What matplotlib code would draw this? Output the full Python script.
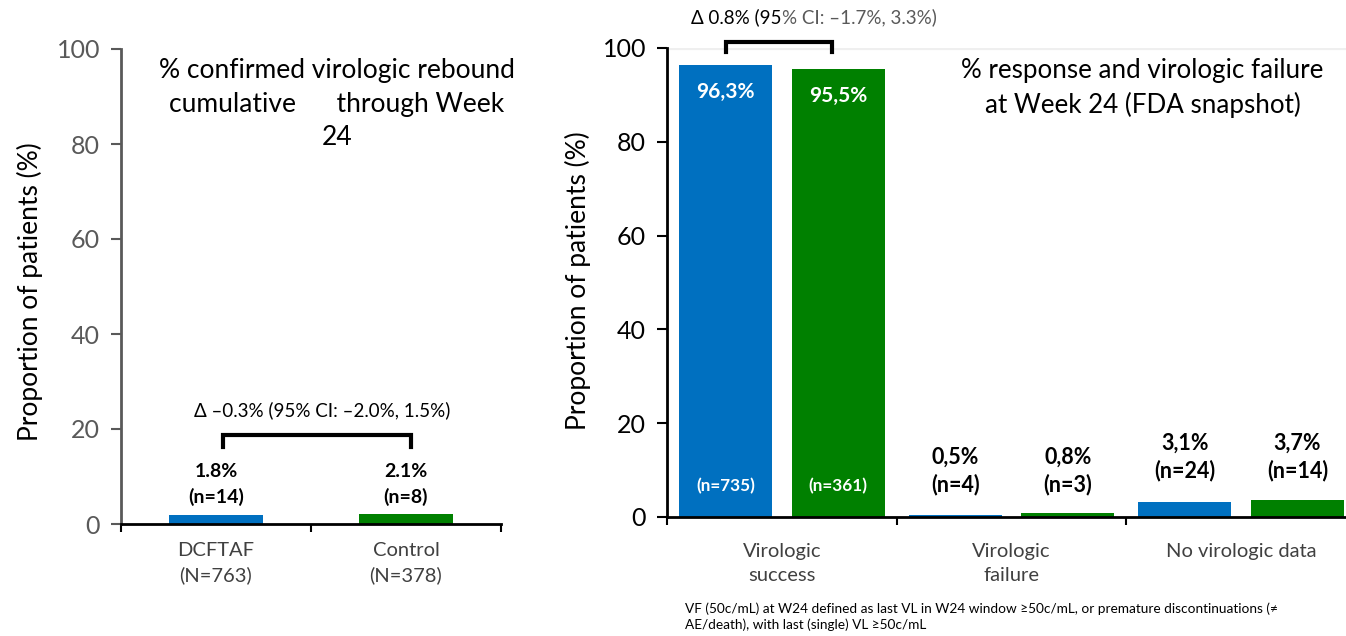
import matplotlib
matplotlib.use("Agg")
import matplotlib.pyplot as plt
import numpy as np

plt.rcParams['font.family'] = ['Lato', 'DejaVu Sans']

# ---------------- data ----------------
left_categories = ["DCFTAF\n(N=763)", "Control\n(N=378)"]
left_values = [1.8, 2.1]
left_labels = ["1.8%\n(n=14)", "2.1%\n(n=8)"]
left_delta = "Δ –0.3% (95% CI: –2.0%, 1.5%)"
left_title = "% confirmed virologic rebound\ncumulative      through Week\n24"

right_categories = ["Virologic\nsuccess", "Virologic\nfailure", "No virologic data"]
right_dcftaf = [96.3, 0.5, 3.1]
right_control = [95.5, 0.8, 3.7]
right_pct_dcftaf = ["96,3%", "0,5%", "3,1%"]
right_pct_control = ["95,5%", "0,8%", "3,7%"]
right_n_dcftaf = ["(n=735)", "(n=4)", "(n=24)"]
right_n_control = ["(n=361)", "(n=3)", "(n=14)"]
right_delta_a = "Δ 0.8% (95"
right_delta_b = "% CI: –1.7%, 3.3%)"
right_title = "% response and virologic failure\nat Week 24 (FDA snapshot)"
footnote = ("VF (50c/mL) at W24 defined as last VL in W24 window ≥50c/mL, or premature discontinuations (≠\n"
            "AE/death), with last (single) VL ≥50c/mL")
yticks = [0, 20, 40, 60, 80, 100]

BLUE = "#0070C0"
GREEN = "#008000"
GRAY = "#595959"

W, H = 1346, 636
fig = plt.figure(figsize=(W / 100, H / 100), dpi=100)

def px(x0, y_bottom, x1, y_top):
    return [x0 / W, 1 - y_bottom / H, (x1 - x0) / W, (y_bottom - y_top) / H]

# ---------------- left panel ----------------
axL = fig.add_axes(px(121, 524, 501, 49))
xl = np.arange(len(left_categories))
axL.bar(xl, left_values, width=0.49, color=[BLUE, GREEN])
axL.set_xlim(-0.5, 1.5)
axL.set_ylim(0, 100)
axL.set_yticks(yticks)
axL.tick_params(axis='y', colors=GRAY, labelsize=18, length=7, width=1.5, pad=8)
axL.set_xticks(xl)
axL.set_xticklabels(left_categories, fontsize=14.5, color="#404040", linespacing=1.45)
axL.tick_params(axis='x', length=0, pad=13)
axL.set_xticks([-0.5, 0.5, 1.5], minor=True)
axL.tick_params(axis='x', which='minor', length=6, width=1.5, color='black')
for s in ['top', 'right']:
    axL.spines[s].set_visible(False)
axL.spines['left'].set_color(GRAY)
axL.spines['left'].set_linewidth(2)
axL.spines['bottom'].set_linewidth(2)
axL.set_ylabel("Proportion of patients (%)", fontsize=19, va='center')
axL.yaxis.set_label_coords(-0.24, 0.49)

for x, lab in zip(xl, left_labels):
    axL.text(x, 8.3, lab, ha='center', va='center', fontsize=14, fontweight='bold',
             linespacing=1.5)
bx = [xl[0] + 0.035, xl[0] + 0.035, xl[1] + 0.025, xl[1] + 0.025]
axL.plot(bx, [16.2, 18.7, 18.7, 16.2], color='black', lw=3, clip_on=False,
         solid_joinstyle='miter')
axL.text(0.56, 24.0, left_delta, ha='center', va='center', fontsize=13.5, color='black')
axL.text(0.637, 88.4, left_title, ha='center', va='center', fontsize=19, linespacing=1.42)

# ---------------- right panel ----------------
axR = fig.add_axes(px(667, 517, 1356, 48))
xr = np.arange(len(right_categories))
off = 0.245
bw = 0.405
axR.axhline(100, color='#efefef', lw=3, zorder=0)
axR.bar(xr - off, right_dcftaf, width=bw, color=BLUE, zorder=2)
axR.bar(xr + off, right_control, width=bw, color=GREEN, zorder=2)
axR.set_xlim(-0.5, 2.5)
axR.set_ylim(0, 100)
axR.set_yticks(yticks)
axR.tick_params(axis='y', colors='black', labelsize=18, length=7, width=1.5, pad=8)
axR.set_xticks(xr)
axR.set_xticklabels(right_categories, fontsize=14.5, color="#404040", linespacing=1.45, va='top')
axR.tick_params(axis='x', length=0, pad=19)
axR.set_xticks([-0.5, 0.5, 1.5, 2.5], minor=True)
axR.tick_params(axis='x', which='minor', length=6, width=1.5, color='black')
for s in ['top', 'right']:
    axR.spines[s].set_visible(False)
axR.spines['left'].set_linewidth(2)
axR.spines['bottom'].set_linewidth(2)
axR.set_ylabel("Proportion of patients (%)", fontsize=19, va='center')
axR.yaxis.set_label_coords(-0.129, 0.503)

# inside labels on success bars
for x, v, p, n in [(xr[0] - off, right_dcftaf[0], right_pct_dcftaf[0], right_n_dcftaf[0]),
                   (xr[0] + off, right_control[0], right_pct_control[0], right_n_control[0])]:
    axR.text(x, v - 5.7, p, ha='center', va='center', fontsize=15, fontweight='bold', color='white', zorder=3)
    axR.text(x, 6.6, n, ha='center', va='center', fontsize=12.3, fontweight='bold', color='white', zorder=3)
# labels above small bars
for i in [1, 2]:
    top = max(right_dcftaf[i], right_control[i])
    for x, p, n in [(xr[i] - off, right_pct_dcftaf[i], right_n_dcftaf[i]),
                    (xr[i] + off, right_pct_control[i], right_n_control[i])]:
        axR.text(x, top + 12.0, p, ha='center', va='center', fontsize=15.5, fontweight='bold', zorder=3)
        axR.text(x, top + 6.2, n, ha='center', va='center', fontsize=15.5, fontweight='bold', zorder=3)

bxr = [xr[0] - off, xr[0] - off, xr[0] + off - 0.025, xr[0] + off - 0.025]
axR.plot(bxr, [99.1, 101.3, 101.3, 99.1], color='black', lw=3, clip_on=False,
         solid_joinstyle='miter', zorder=4)
axR.text(0.0, 106.6, right_delta_a, ha='right', va='center', fontsize=13.5, color='black', clip_on=False)
axR.text(0.0, 106.6, right_delta_b, ha='left', va='center', fontsize=13.5, color=GRAY, clip_on=False)
axR.text(1.57, 91.5, right_title, ha='center', va='center', fontsize=18.7, linespacing=1.42)

fig.text(685 / W, 1 - 617 / H, footnote, ha='left', va='center', fontsize=9.8, linespacing=1.3)

fig.savefig("out.png", dpi=100)
